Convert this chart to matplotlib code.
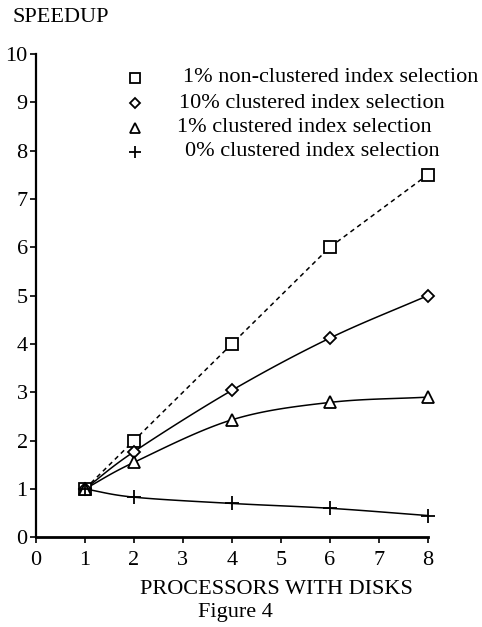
import numpy as np
import matplotlib
matplotlib.use("Agg")
import matplotlib.pyplot as plt

plt.rcParams['font.family'] = ['Liberation Serif', 'DejaVu Serif']

procs = [1, 2, 4, 6, 8]
nonclust_1 = [1.0, 2.0, 4.0, 6.0, 7.5]
clust_10 = [1.0, 1.77, 3.04, 4.12, 5.0]
clust_1 = [1.0, 1.55, 2.43, 2.79, 2.9]
clust_0 = [1.0, 0.83, 0.70, 0.60, 0.45]

labels = ["1% non-clustered index selection",
          "10% clustered index selection",
          "1% clustered index selection",
          "0% clustered index selection"]

xticks = list(range(0, 9))
yticks = list(range(0, 11))


def smooth(x, y, n=30):
    # catmull-rom curve through the measured points
    x = np.asarray(x, float)
    y = np.asarray(y, float)
    px = np.concatenate([[2 * x[0] - x[1]], x, [2 * x[-1] - x[-2]]])
    py = np.concatenate([[2 * y[0] - y[1]], y, [2 * y[-1] - y[-2]]])
    xs, ys = [], []
    t = np.linspace(0, 1, n)
    for i in range(1, len(px) - 2):
        for p, out in ((px, xs), (py, ys)):
            p0, p1, p2, p3 = p[i - 1], p[i], p[i + 1], p[i + 2]
            out.extend(0.5 * (2 * p1 + (-p0 + p2) * t
                              + (2 * p0 - 5 * p1 + 4 * p2 - p3) * t ** 2
                              + (-p0 + 3 * p1 - 3 * p2 + p3) * t ** 3))
    return xs, ys


fig = plt.figure(figsize=(4.82, 6.27), dpi=100)
ax = fig.add_axes([0.0747, 0.1431, 0.8126, 0.7708])

FS = 16
lw = 1.1
ax.plot(procs, nonclust_1, color='k', lw=lw, ls=(0, (3, 2.5)), clip_on=False)
for vals in (clust_10, clust_1, clust_0):
    sx, sy = smooth(procs, vals)
    ax.plot(sx, sy, color='k', lw=lw, clip_on=False)

mk = dict(color='k', ls='none', mfc='white', mew=1.3, clip_on=False, zorder=3)
ax.plot(procs, nonclust_1, marker='s', ms=8.5, **mk)
ax.plot(procs, clust_10, marker='D', ms=6.5, **mk)
ax.plot(procs, clust_1, marker='^', ms=8.5, **mk)
ax.plot(procs, clust_0, marker='+', ms=10, **mk)

ax.set_xlim(0, 8)
ax.set_ylim(0, 10)
ax.set_xticks(xticks)
ax.set_yticks(yticks)
ax.spines['top'].set_visible(False)
ax.spines['right'].set_visible(False)
ax.spines['left'].set_linewidth(1.6)
ax.spines['bottom'].set_linewidth(2.0)
ax.tick_params(axis='both', labelsize=FS, length=4, width=1.2, direction='out', pad=2)
ax.tick_params(axis='x', pad=6)

# legend drawn by hand: markers in one column, text staggered
leg_y = [78, 103, 128, 152]
leg_tx = [183, 179, 177, 185]
leg_mk = [('s', 7.5), ('D', 5.5), ('^', 7), ('+', 8)]
for (m, s), yy, tx, lab in zip(leg_mk, leg_y, leg_tx, labels):
    fy = 1 - yy / 627
    fig.lines.append(matplotlib.lines.Line2D([135 / 482], [fy], marker=m, ms=s, color='k',
                                             mfc='white', mew=1.3, ls='none',
                                             transform=fig.transFigure))
    fig.text(tx / 482, fy, lab, fontsize=FS, va='center', ha='left')

fig.text(13 / 482, 1 - 18 / 627, "SPEEDUP", fontsize=FS, va='center', ha='left')
fig.text(140 / 482, 1 - 590 / 627, "PROCESSORS WITH DISKS", fontsize=FS, va='center', ha='left')
fig.text(198 / 482, 1 - 613 / 627, "Figure 4", fontsize=FS, va='center', ha='left')

fig.savefig("out.png", dpi=100)
